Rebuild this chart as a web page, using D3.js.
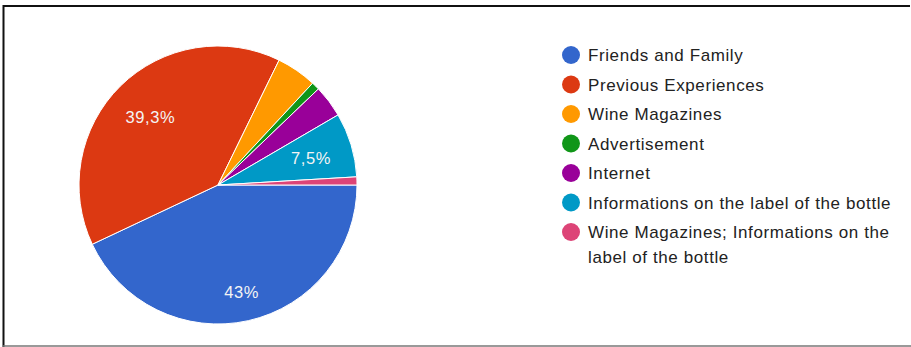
<!DOCTYPE html>
<html>
<head>
<meta charset="utf-8">
<script src="https://cdn.jsdelivr.net/npm/d3@7"></script>
<style>
  html, body { margin: 0; padding: 0; background: #fff; }
  svg { display: block; }
  text { font-family: Arial, "Liberation Sans", sans-serif; }
</style>
</head>
<body>
<svg id="chart" width="911" height="347"></svg>
<script>
// Survey responses: where people get information about wine (n = 107)
const categories = [
  "Friends and Family",
  "Previous Experiences",
  "Wine Magazines",
  "Advertisement",
  "Internet",
  "Informations on the label of the bottle",
  "Wine Magazines; Informations on the label of the bottle"
];
const responses = [46, 42, 5, 1, 4, 8, 1];
const sliceColors = ["#3366cc", "#dc3912", "#ff9900", "#109618", "#990099", "#0099c6", "#dd4477"];

const W = 911, H = 347;
const cx = 218, cy = 185, radius = 139;

const svg = d3.select("#chart");

// frame around the chart
svg.append("line").attr("x1", 3).attr("x2", 910).attr("y1", 6).attr("y2", 6)
  .attr("stroke", "#111").attr("stroke-width", 2);
svg.append("line").attr("x1", 3.5).attr("x2", 3.5).attr("y1", 5).attr("y2", 347)
  .attr("stroke", "#111").attr("stroke-width", 2);
svg.append("line").attr("x1", 3).attr("x2", 911).attr("y1", 346).attr("y2", 346)
  .attr("stroke", "#777").attr("stroke-width", 1.5);

const total = d3.sum(responses);
const data = categories.map((c, i) => ({ name: c, value: responses[i], color: sliceColors[i] }));

const pie = d3.pie().value(d => d.value).sort(null)
  .startAngle(Math.PI / 2).endAngle(Math.PI / 2 + 2 * Math.PI);
const arcs = pie(data);
const arc = d3.arc().innerRadius(0).outerRadius(radius);

const g = svg.append("g").attr("transform", `translate(${cx},${cy})`);

g.selectAll("path.slice").data(arcs).join("path")
  .attr("class", "slice")
  .attr("d", arc)
  .attr("fill", d => d.data.color)
  .attr("stroke", "#fff")
  .attr("stroke-width", 1);

// percent labels, formatted with a decimal comma
const fmtPct = v => {
  const s = (Math.round(v * 10) / 10).toFixed(1).replace(/\.0$/, "");
  return s.replace(".", ",") + "%";
};

const labelFont = 16.5;
const labels = g.selectAll("text.pct").data(arcs.filter(d => d.data.value / total >= 0.05)).join("text")
  .attr("class", "pct")
  .attr("text-anchor", "middle")
  .attr("dominant-baseline", "central")
  .attr("fill", "#f4f4f4")
  .style("font-size", labelFont + "px")
  .style("letter-spacing", "0.6px")
  .text(d => fmtPct(d.data.value / total * 100));

// place each label so its box sits a fixed inset inside the rim
const inset = 21;
labels.each(function(d) {
  const bb = this.getBBox();
  const a = (d.startAngle + d.endAngle) / 2;
  const sx = Math.sin(a), sy = -Math.cos(a);
  const half = Math.abs(bb.width / 2 * sx) + Math.abs(12 / 2 * sy);
  const dist = radius - inset - half;
  d3.select(this).attr("x", sx * dist).attr("y", sy * dist + 1);
});

// legend
const legendX = 571, legendY = 55, rowH = 29.5, wrapH = 25, textX = 588, maxTextW = 312;
const legend = svg.append("g");
let y = legendY;
data.forEach(d => {
  legend.append("circle").attr("cx", legendX).attr("cy", y).attr("r", 9).attr("fill", d.color);
  const t = legend.append("text")
    .attr("x", textX).attr("y", y + 6)
    .attr("fill", "#222")
    .style("font-size", "17px")
    .style("letter-spacing", "0.6px");
  // simple word wrap
  const words = d.name.split(" ");
  let line = [], lineNo = 0;
  let tspan = t.append("tspan").attr("x", textX).attr("y", y + 6);
  words.forEach(w => {
    line.push(w);
    tspan.text(line.join(" "));
    if (tspan.node().getComputedTextLength() > maxTextW && line.length > 1) {
      line.pop();
      tspan.text(line.join(" "));
      line = [w];
      lineNo++;
      tspan = t.append("tspan").attr("x", textX).attr("y", y + 6 + lineNo * wrapH).text(w);
    }
  });
  y += rowH + lineNo * wrapH;
});
</script>
</body>
</html>
